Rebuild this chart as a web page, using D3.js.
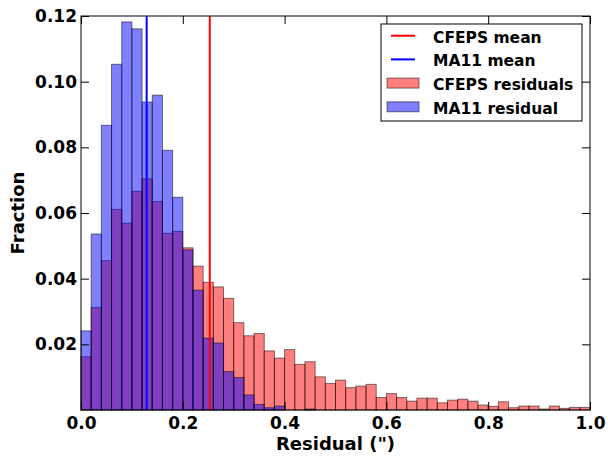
<!DOCTYPE html>
<html lang="en">
<head>
<meta charset="UTF-8">
<title>Residual histogram</title>
<script src="https://d3js.org/d3.v7.min.js"></script>
<style>
  body { margin: 0; background: #fff; }
  text { font-family: "DejaVu Sans", sans-serif; font-weight: bold; }
</style>
</head>
<body>
<svg id="chart" width="608" height="456"></svg>
<script>
// histogram bins (width 0.02) from 0 to 1
const binEdges = d3.range(0, 50).map(i => i * 0.02);
const binWidth = 0.02;

// fraction per bin
const cfepsFrac = [0.0162, 0.0312, 0.0455, 0.0611, 0.0569, 0.0666, 0.0704, 0.0635, 0.0538, 0.0544,
  0.0494, 0.0438, 0.0389, 0.0375, 0.0340, 0.0266, 0.0226, 0.0233, 0.0180, 0.0158,
  0.0184, 0.0139, 0.0147, 0.0101, 0.0081, 0.0091, 0.0068, 0.0073, 0.0078, 0.0038,
  0.0050, 0.0038, 0.0027, 0.0036, 0.0036, 0.0022, 0.0030, 0.0033, 0.0027, 0.0015,
  0.0011, 0.0025, 0.0007, 0.0012, 0.0012, 0.0003, 0.0012, 0.0005, 0.0008, 0.0008];
const ma11Frac = [0.0241, 0.0536, 0.0867, 0.1053, 0.1182, 0.1161, 0.0938, 0.0959, 0.0791, 0.0648,
  0.0488, 0.0365, 0.0219, 0.0204, 0.0117, 0.0099, 0.0046, 0.0017, 0.0007, 0.0012,
  0, 0, 0.0003, 0, 0, 0, 0, 0, 0, 0,
  0, 0, 0, 0, 0, 0, 0, 0, 0, 0,
  0, 0, 0, 0, 0, 0, 0, 0, 0, 0];

const cfepsMean = 0.253;
const ma11Mean = 0.129;

const xTicks = [0, 0.2, 0.4, 0.6, 0.8, 1.0];
const yTicks = [0.02, 0.04, 0.06, 0.08, 0.10, 0.12];

const legendItems = [
  { label: "CFEPS mean", type: "line", color: "#ff0000" },
  { label: "MA11 mean", type: "line", color: "#0000ff" },
  { label: "CFEPS residuals", type: "patch", color: "#ff0000" },
  { label: "MA11 residual", type: "patch", color: "#0000ff" }
];

const margin = { left: 81, top: 16, right: 18, bottom: 46 };
const W = 608, H = 456;
const w = W - margin.left - margin.right;
const h = H - margin.top - margin.bottom;

const svg = d3.select("#chart");
const g = svg.append("g").attr("transform", `translate(${margin.left},${margin.top})`);

const x = d3.scaleLinear().domain([0, 1]).range([0, w]);
const y = d3.scaleLinear().domain([0, 0.12]).range([h, 0]);

function drawHist(values, color) {
  g.append("g").selectAll("rect")
    .data(values.map((v, i) => ({ x0: binEdges[i], v })))
    .enter().append("rect")
    .filter(d => d.v > 0)
    .attr("x", d => x(d.x0))
    .attr("y", d => y(d.v))
    .attr("width", d => x(d.x0 + binWidth) - x(d.x0))
    .attr("height", d => y(0) - y(d.v))
    .attr("fill", color)
    .attr("fill-opacity", 0.5)
    .attr("stroke", "#000")
    .attr("stroke-opacity", 0.5)
    .attr("stroke-width", 1);
}

drawHist(cfepsFrac, "#ff0000");
drawHist(ma11Frac, "#0000ff");

// mean lines
[[cfepsMean, "#ff0000"], [ma11Mean, "#0000ff"]].forEach(([m, c]) => {
  g.append("line")
    .attr("x1", x(m)).attr("x2", x(m))
    .attr("y1", 0).attr("y2", h)
    .attr("stroke", c).attr("stroke-width", 2);
});

// frame
g.append("rect")
  .attr("width", w).attr("height", h)
  .attr("fill", "none").attr("stroke", "#000").attr("stroke-width", 1);

// axes with inward ticks on all sides
const bottomAxis = d3.axisBottom(x).tickValues(xTicks).tickFormat(d3.format(".1f")).tickSizeInner(-8).tickSizeOuter(0).tickPadding(7);
const leftAxis = d3.axisLeft(y).tickValues(yTicks).tickFormat(d3.format(".2f")).tickSizeInner(-8).tickSizeOuter(0).tickPadding(4);

g.append("g").attr("transform", `translate(0,${h})`).call(bottomAxis);
g.append("g").call(leftAxis);
g.append("g").call(d3.axisTop(x).tickValues(xTicks).tickFormat("").tickSizeInner(-8).tickSizeOuter(0));
g.append("g").attr("transform", `translate(${w},0)`)
  .call(d3.axisRight(y).tickValues(yTicks).tickFormat("").tickSizeInner(-8).tickSizeOuter(0));

g.selectAll(".domain").remove();
g.selectAll(".tick line").attr("stroke", "#000");
g.selectAll(".tick text").attr("font-size", 17).attr("fill", "#000")
  .attr("font-family", "DejaVu Sans").attr("font-weight", "bold");

// axis titles
svg.append("text")
  .attr("x", margin.left + w / 2).attr("y", 450)
  .attr("text-anchor", "middle").attr("font-size", 18)
  .text("Residual (\")");
svg.append("text")
  .attr("transform", `translate(24,${margin.top + h / 2}) rotate(-90)`)
  .attr("text-anchor", "middle").attr("font-size", 18)
  .text("Fraction");

// legend
const leg = svg.append("g").attr("transform", "translate(381,24)");
leg.append("rect").attr("width", 201).attr("height", 97)
  .attr("fill", "#fff").attr("stroke", "#000").attr("stroke-width", 1);
legendItems.forEach((it, i) => {
  const cy = 11.7 + i * 23.7;
  if (it.type === "line") {
    leg.append("line").attr("x1", 10).attr("x2", 34).attr("y1", cy).attr("y2", cy)
      .attr("stroke", it.color).attr("stroke-width", 2);
  } else {
    leg.append("rect").attr("x", 6).attr("y", cy - 5).attr("width", 32).attr("height", 10)
      .attr("fill", it.color).attr("fill-opacity", 0.5)
      .attr("stroke", "#000").attr("stroke-opacity", 0.5);
  }
  leg.append("text").attr("x", 52).attr("y", cy + 7)
    .attr("font-size", 15.5).text(it.label);
});
</script>
</body>
</html>
